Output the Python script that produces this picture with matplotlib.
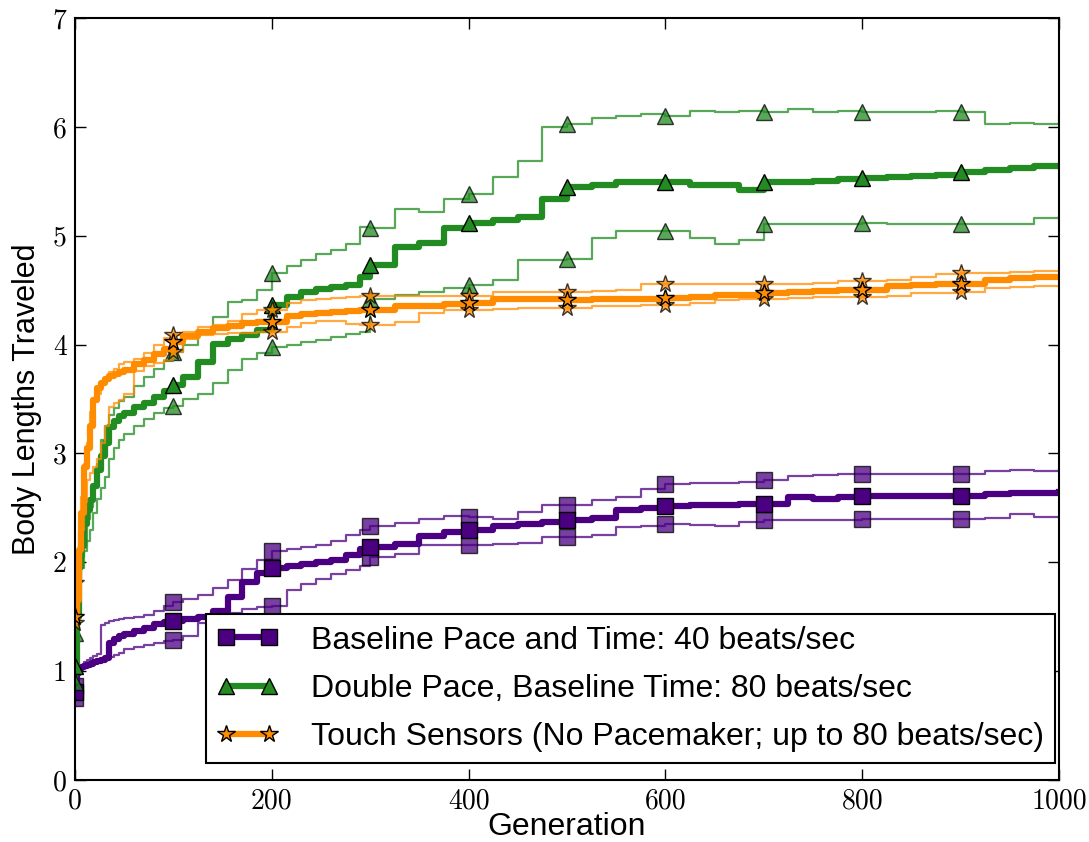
import numpy as np
import matplotlib
matplotlib.use('Agg')
import matplotlib.pyplot as plt

# generations at which the running best was sampled
gens = [0, 2, 4, 6, 9, 12, 15, 18, 22, 26, 30, 35, 40, 45, 50, 60, 70, 80, 90,
        100, 110, 125, 140, 155, 170, 185, 200, 215, 230, 245, 260, 275, 290,
        300, 325, 350, 375, 400, 425, 450, 475, 500, 525, 550, 575, 600, 625,
        650, 675, 700, 725, 750, 775, 800, 825, 850, 875, 900, 925, 950, 975, 1000]

# baseline pace (40 beats/sec): mean, upper and lower bound
base_mean = [0.81, 0.98, 1.02, 1.04, 1.05, 1.06, 1.07, 1.08, 1.09, 1.10, 1.12, 1.26, 1.30, 1.32, 1.34, 1.37, 1.40, 1.43, 1.45,
             1.46, 1.48, 1.50, 1.55, 1.68, 1.82, 1.90, 1.95, 1.97, 1.98, 2.00, 2.02, 2.07, 2.12,
             2.14, 2.17, 2.24, 2.28, 2.30, 2.33, 2.35, 2.37, 2.39, 2.41, 2.48, 2.50, 2.52, 2.53,
             2.53, 2.54, 2.54, 2.60, 2.58, 2.60, 2.61, 2.61, 2.61, 2.61, 2.61, 2.63, 2.64, 2.64, 2.65]
base_hi = [0.86, 1.00, 1.04, 1.06, 1.08, 1.10, 1.12, 1.14, 1.16, 1.42, 1.44, 1.46, 1.47, 1.48, 1.49, 1.50, 1.52, 1.55, 1.60,
           1.64, 1.66, 1.70, 1.76, 1.84, 1.94, 2.02, 2.10, 2.12, 2.14, 2.16, 2.20, 2.25, 2.30,
           2.33, 2.36, 2.40, 2.43, 2.42, 2.40, 2.46, 2.53, 2.53, 2.57, 2.60, 2.67, 2.72, 2.73,
           2.73, 2.74, 2.76, 2.79, 2.80, 2.81, 2.81, 2.81, 2.81, 2.81, 2.81, 2.84, 2.85, 2.84, 2.86]
base_lo = [0.75, 0.96, 1.02, 1.04, 1.06, 1.07, 1.08, 1.09, 1.10, 1.11, 1.12, 1.13, 1.15, 1.17, 1.20, 1.22, 1.24, 1.26, 1.28,
           1.29, 1.32, 1.44, 1.48, 1.53, 1.57, 1.59, 1.60, 1.75, 1.80, 1.85, 1.89, 1.93, 1.97,
           2.05, 2.08, 2.16, 2.16, 2.16, 2.17, 2.18, 2.23, 2.23, 2.25, 2.32, 2.33, 2.35, 2.34,
           2.33, 2.37, 2.39, 2.39, 2.39, 2.39, 2.40, 2.40, 2.40, 2.40, 2.40, 2.41, 2.44, 2.42, 2.42]

# double pace (80 beats/sec)
dbl_mean = [1.05, 1.50, 1.96, 2.15, 2.35, 2.48, 2.57, 2.70, 2.85, 2.98, 3.10, 3.24, 3.30, 3.34, 3.37, 3.43, 3.46, 3.52, 3.57,
            3.63, 3.70, 3.84, 4.01, 4.05, 4.09, 4.13, 4.36, 4.44, 4.48, 4.51, 4.53, 4.55, 4.62,
            4.73, 4.90, 4.93, 5.07, 5.12, 5.14, 5.17, 5.34, 5.45, 5.47, 5.49, 5.49, 5.49, 5.47,
            5.47, 5.42, 5.49, 5.49, 5.50, 5.52, 5.53, 5.54, 5.55, 5.56, 5.59, 5.60, 5.62, 5.64, 5.64]
dbl_hi = [1.35, 1.70, 1.95, 2.05, 2.20, 2.40, 2.51, 2.70, 2.90, 3.12, 3.25, 3.35, 3.42, 3.48, 3.52, 3.62, 3.70, 3.78, 3.85,
          3.93, 4.00, 4.10, 4.25, 4.39, 4.41, 4.50, 4.66, 4.72, 4.78, 4.83, 4.87, 4.92, 5.08,
          5.07, 5.25, 5.22, 5.34, 5.38, 5.54, 5.69, 6.00, 6.03, 6.08, 6.10, 6.12, 6.10, 6.15,
          6.14, 6.15, 6.14, 6.16, 6.14, 6.15, 6.14, 6.14, 6.14, 6.15, 6.14, 6.03, 6.04, 6.03, 6.10]
dbl_lo = [0.90, 1.40, 1.80, 1.95, 2.10, 2.20, 2.30, 2.45, 2.58, 2.68, 2.78, 2.95, 3.05, 3.12, 3.18, 3.25, 3.32, 3.37, 3.42,
          3.44, 3.50, 3.55, 3.65, 3.77, 3.87, 3.92, 3.98, 4.00, 4.02, 4.04, 4.07, 4.10, 4.12,
          4.42, 4.46, 4.48, 4.52, 4.55, 4.59, 4.78, 4.78, 4.79, 4.98, 5.04, 5.04, 5.04, 4.98,
          4.92, 4.96, 5.11, 5.11, 5.11, 5.11, 5.12, 5.11, 5.11, 5.11, 5.11, 5.11, 5.11, 5.16, 5.17]

# touch sensors, no pacemaker
touch_mean = [1.50, 1.65, 2.11, 2.45, 2.88, 3.05, 3.25, 3.49, 3.60, 3.65, 3.68, 3.71, 3.73, 3.75, 3.77, 3.82, 3.86, 3.91, 3.96,
              4.02, 4.08, 4.12, 4.15, 4.17, 4.20, 4.21, 4.21, 4.26, 4.28, 4.29, 4.30, 4.31, 4.32,
              4.32, 4.35, 4.35, 4.37, 4.38, 4.42, 4.42, 4.42, 4.41, 4.42, 4.42, 4.42, 4.43, 4.44,
              4.46, 4.46, 4.47, 4.48, 4.49, 4.50, 4.50, 4.54, 4.55, 4.56, 4.56, 4.59, 4.61, 4.62, 4.62]
touch_hi = [1.81, 1.95, 2.27, 2.60, 2.90, 3.10, 3.38, 3.50, 3.55, 3.65, 3.70, 3.75, 3.78, 3.82, 3.84, 3.87, 3.92, 4.00, 4.06,
            4.09, 4.12, 4.16, 4.18, 4.22, 4.28, 4.32, 4.32, 4.38, 4.41, 4.42, 4.43, 4.44, 4.45,
            4.45, 4.45, 4.45, 4.45, 4.45, 4.48, 4.48, 4.48, 4.48, 4.49, 4.50, 4.56, 4.56, 4.56,
            4.56, 4.56, 4.56, 4.56, 4.57, 4.58, 4.58, 4.59, 4.62, 4.65, 4.66, 4.66, 4.67, 4.68, 4.68]
touch_lo = [1.44, 1.55, 1.96, 2.30, 2.55, 2.76, 2.82, 2.88, 2.95, 3.10, 3.25, 3.43, 3.46, 3.49, 3.55, 3.76, 3.80, 3.83, 3.86,
            3.93, 4.05, 4.09, 4.10, 4.11, 4.11, 4.12, 4.12, 4.16, 4.20, 4.22, 4.22, 4.19, 4.18,
            4.18, 4.21, 4.29, 4.32, 4.32, 4.33, 4.34, 4.34, 4.34, 4.35, 4.35, 4.36, 4.36, 4.38,
            4.41, 4.42, 4.42, 4.43, 4.44, 4.44, 4.44, 4.45, 4.47, 4.47, 4.48, 4.52, 4.53, 4.54, 4.54]

labels = ['Baseline Pace and Time: 40 beats/sec',
          'Double Pace, Baseline Time: 80 beats/sec',
          'Touch Sensors (No Pacemaker; up to 80 beats/sec)']
colors = ['#4B0082', '#228B22', '#FF8C00']
markers = ['s', '^', '*']
msizes = [11, 12, 13]

series = [(base_mean, base_hi, base_lo),
          (dbl_mean, dbl_hi, dbl_lo),
          (touch_mean, touch_hi, touch_lo)]

# a marker every 100 generations
mark_idx = [i for i, g in enumerate(gens) if g % 100 == 0 and g < 1000]

fig = plt.figure(figsize=(10.89, 8.42), dpi=100)
ax = fig.add_axes([0.0689, 0.0736, 0.9036, 0.905])

for (mean, hi, lo), c, m, ms, lab in zip(series, colors, markers, msizes, labels):
    for bound in (hi, lo):
        ax.plot(gens, bound, drawstyle='steps-post', color=c, lw=1.6, alpha=0.75,
                marker=m, ms=ms, markevery=mark_idx, mfc=c, mec='k', mew=1.0)
    ax.plot(gens, mean, drawstyle='steps-post', color=c, lw=4.5,
            marker=m, ms=ms, markevery=mark_idx, mfc=c, mec='k', mew=1.0, label=lab)

ax.set_xlim(0, 1000)
ax.set_ylim(0, 7)
ax.set_xticks(np.arange(0, 1001, 200))
ax.set_yticks(np.arange(0, 8, 1))
ax.tick_params(direction='in', length=8, width=1, top=True, right=True,
               labelsize=20, pad=6)
for lbl in ax.get_xticklabels() + ax.get_yticklabels():
    lbl.set_fontfamily('cmr10')
for sp in ax.spines.values():
    sp.set_linewidth(1.5)

ax.set_xlabel('Generation', fontsize=23, family='Liberation Sans', labelpad=-2)
ax.set_ylabel('Body Lengths Traveled', fontsize=22, family='Liberation Sans', labelpad=8)

leg = ax.legend(loc='lower right', bbox_to_anchor=(0.996, 0.022),
                prop={'family': 'Liberation Sans', 'size': 23},
                handlelength=1.95, numpoints=2, fancybox=False, framealpha=1,
                borderpad=0.35, labelspacing=0.57, handletextpad=1.0, borderaxespad=0)
leg.get_frame().set_edgecolor('k')
leg.get_frame().set_linewidth(1.5)

fig.savefig('out.png', dpi=100)
